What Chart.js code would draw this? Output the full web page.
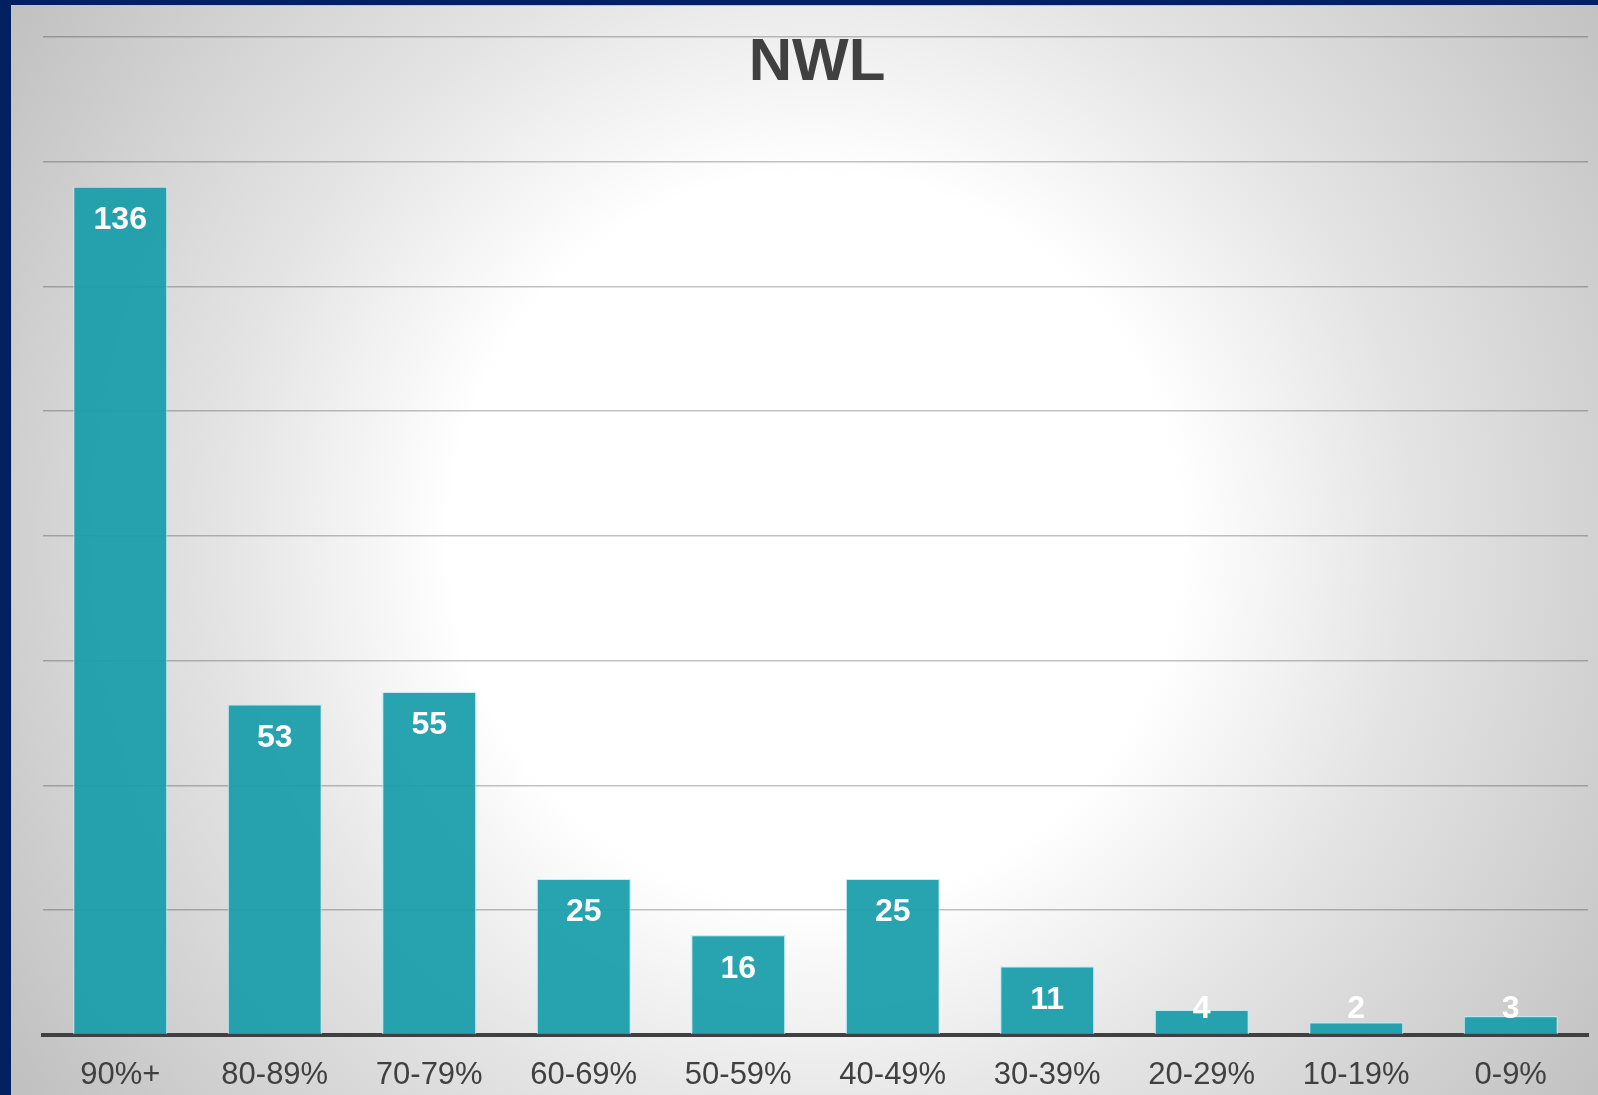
<!DOCTYPE html>
<html>
<head>
<meta charset="utf-8">
<script src="https://cdn.jsdelivr.net/npm/chart.js@4.4.1/dist/chart.umd.min.js"></script>
<style>
  html, body { margin: 0; padding: 0; width: 1598px; height: 1095px; overflow: hidden; background: #002060; }
  #wrap { position: absolute; left: 11px; top: 5px; width: 1587px; height: 1090px;
    background: radial-gradient(circle 960px at 805px 535px, #ffffff 0%, #ffffff 38%, #e4e4e4 62%, #c1c1c1 100%);
    box-shadow: inset 1px 1px 0 #bfc4cc; }
  #c { position: absolute; left: 0; top: 0; display: block; }
  #title { position: absolute; left: 0; width: 1634px; top: 26px; text-align: center;
    font-family: "Liberation Sans", Arial, sans-serif; font-weight: bold; font-size: 60px; line-height: 68px; color: #404040; margin: 0; z-index: 2; }
</style>
</head>
<body>
<div id="wrap"></div>
<h1 id="title">NWL</h1>
<canvas id="c" width="1598" height="1095"></canvas>
<script>
const categories = ["90%+", "80-89%", "70-79%", "60-69%", "50-59%", "40-49%", "30-39%", "20-29%", "10-19%", "0-9%"];
const counts = [136, 53, 55, 25, 16, 25, 11, 4, 2, 3];
const yMax = 160;
const yStep = 20;

const valueLabels = {
  id: 'valueLabels',
  afterDatasetsDraw(chart) {
    const ctx = chart.ctx;
    const meta = chart.getDatasetMeta(0);
    const base = chart.scales.y.getPixelForValue(0);
    ctx.save();
    ctx.font = 'bold 32px "Liberation Sans", Arial, sans-serif';
    ctx.fillStyle = '#ffffff';
    ctx.textAlign = 'center';
    ctx.textBaseline = 'alphabetic';
    meta.data.forEach((bar, i) => {
      const cy = Math.min(bar.y + 31, base - 28);
      ctx.fillText(String(counts[i]), bar.x, cy + 11.5);
    });
    ctx.restore();
  }
};

new Chart(document.getElementById('c'), {
  type: 'bar',
  data: {
    labels: categories,
    datasets: [{
      data: counts,
      backgroundColor: 'rgba(24,157,171,0.93)',
      borderColor: 'rgba(190,235,240,0.85)',
      borderWidth: 1.2,
      barPercentage: 0.61,
      categoryPercentage: 1.0
    }]
  },
  options: {
    responsive: false,
    animation: false,
    layout: { padding: { left: 43, right: 10, top: 37, bottom: -21 } },
    plugins: { legend: { display: false }, title: { display: false }, tooltip: { enabled: false } },
    scales: {
      x: {
        grid: { display: false, drawTicks: false },
        border: { display: true, color: '#404040', width: 4 },
        ticks: { color: '#404040', font: { family: '"Liberation Sans", Arial, sans-serif', size: 31 }, padding: 22, maxRotation: 0 }
      },
      y: {
        min: 0, max: yMax,
        ticks: { display: false, stepSize: yStep },
        grid: { color: 'rgba(0,0,0,0.24)', lineWidth: 1.5, drawTicks: false },
        border: { display: false }
      }
    }
  },
  plugins: [valueLabels]
});
</script>
</body>
</html>
